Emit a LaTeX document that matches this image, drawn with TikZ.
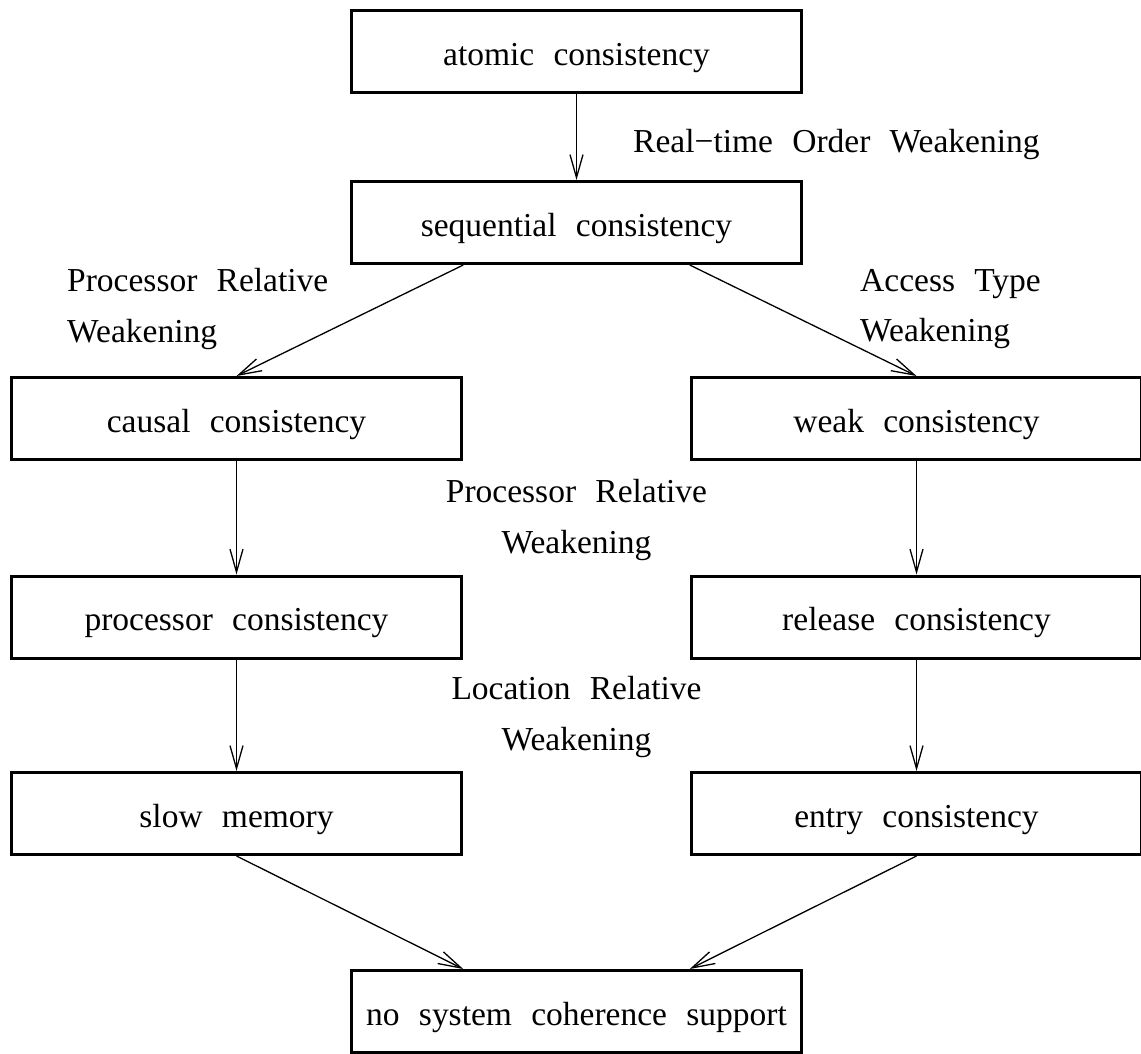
\documentclass[tikz,border=0pt]{standalone}
\usepackage{fontspec}
\setmainfont[WordSpace=2.3]{Liberation Serif}
\usetikzlibrary{arrows.meta,calc}
\begin{document}
\begin{tikzpicture}[x=1pt,y=-1pt,
  box/.style={draw,line width=3pt,minimum width=450pt,minimum height=82pt,inner sep=0pt,
    text height=27pt,text depth=0pt,font=\fontsize{33.5}{40}\selectfont},
  arr/.style={line width=1.3pt,-{Straight Barb[length=23pt,width=13pt,line width=1.3pt]}},
  lbl/.style={inner sep=0pt,font=\fontsize{33.5}{50.5}\selectfont}]
\useasboundingbox (0,0) rectangle (1141,1053);

% consistency models, strongest at the top
\node[box] (atomic) at (576.5,51.5)  {atomic consistency};
\node[box] (seq)    at (576.5,222.5) {sequential consistency};
\node[box] (causal) at (236.5,418.5) {causal consistency};
\node[box] (weak)   at (916.5,418.5) {weak consistency};
\node[box] (proc)   at (236.5,617)   {processor consistency};
\node[box] (rel)    at (916.5,617)   {release consistency};
\node[box] (slow)   at (236.5,813.5) {slow memory};
\node[box] (entry)  at (916.5,813.5) {entry consistency};
\node[box] (none)   at (576.5,1011.5) {no system coherence support};

% weakening steps
\draw[arr] (atomic.south) -- (seq.north);
\draw[arr] ($(seq.south west)!0.25!(seq.south east)$) -- (causal.north);
\draw[arr] ($(seq.south west)!0.75!(seq.south east)$) -- (weak.north);
\draw[arr] (causal.south) -- (proc.north);
\draw[arr] (weak.south) -- (rel.north);
\draw[arr] (proc.south) -- (slow.north);
\draw[arr] (rel.south) -- (entry.north);
\draw[arr] (slow.south) -- ($(none.north west)!0.25!(none.north east)$);
\draw[arr] (entry.south) -- ($(none.north west)!0.75!(none.north east)$);

% names of the weakenings
\node[lbl,anchor=base west] (rt) at (633,152) {Real−time Order Weakening};
\node[lbl,anchor=west,align=left] (prw1) at (67,309) {Processor Relative\\Weakening};
\node[lbl,anchor=west,align=left] (atw) at (860,309) {Access Type\\Weakening};
\node[lbl,align=center] (prw2) at (576.5,520) {Processor Relative\\Weakening};
\node[lbl,align=center] (lrw) at (576.5,717) {Location Relative\\Weakening};
\end{tikzpicture}
\end{document}
